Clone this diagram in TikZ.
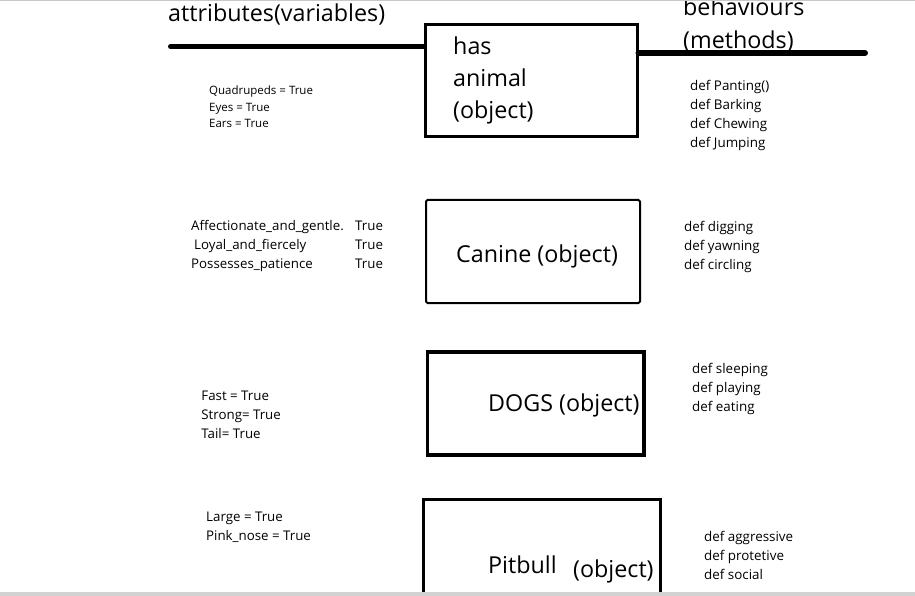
\documentclass[tikz,border=0pt]{standalone}
\usepackage{fontspec}
\setmainfont{Open Sans}
\definecolor{bargray}{HTML}{D2D2D2}
\definecolor{edgegray}{HTML}{C8C8C8}
\tikzset{
  objbox/.style={rectangle, draw, line width=3pt, inner sep=0pt},
  bigtext/.style={inner sep=0pt, font=\fontsize{23.3}{32.4}\selectfont},
  attrlist/.style={inner sep=0pt, anchor=north west, align=left, font=\fontsize{13.3}{19}\selectfont},
  methlist/.style={attrlist, font=\fontsize{13.4}{19}\selectfont},
  heavyline/.style={line width=5pt, line cap=round}
}

\begin{document}
\begin{tikzpicture}[x=1pt, y=-1pt]
    \useasboundingbox (0,0) rectangle (915,596);
    \clip (0,0) rectangle (915,596);
    % object boxes
    \node[objbox, minimum width=212pt, minimum height=112.5pt] (animal) at (531,80.75) {};
    \node[objbox, line width=2pt, rounded corners=1.5pt, minimum width=214pt, minimum height=103pt] (canine) at (533,251.5) {};
    \node[objbox, line width=3.5pt, minimum width=216.5pt, minimum height=103.25pt] (dogs) at (535.75,403.4) {};
    \node[objbox, minimum width=237pt, minimum height=140.5pt] (pitbull) at (542,569.75) {};
    % headings and the two bars
    \node[bigtext, anchor=base west] (attrhead) at (168,22) {attributes(variables)};
    \node[bigtext, anchor=north west, align=left, font=\fontsize{23.3}{33.7}\selectfont] (methhead) at (683,-2.7) {behaviours\\(methods)};
    \coordinate (attrend) at (170.5,46.5);
    \coordinate (methend) at (865,53);
    \draw[heavyline] (attrend) -- (animal.west |- attrend);
    \draw[heavyline, line width=6pt] (animal.east |- methend) -- (methend);
    % animal
    \node[bigtext, anchor=north west, align=left] (animaltxt) at (453,36.2) {has\\animal\\(object)};
    \node[attrlist, font=\fontsize{11.5}{16.7}\selectfont] (animalattr) at (209,85.6) {Quadrupeds = True\\Eyes = True\\Ears = True};
    \node[methlist] (animalmeth) at (690,80.5) {def Panting()\\def Barking\\def Chewing\\def Jumping};
    % canine
    \node[bigtext, anchor=base west] (caninetxt) at (456,262) {Canine (object)};
    \node[attrlist] (canineattr) at (191,220.6) {Affectionate\_and\_gentle.\\\hspace{3pt}Loyal\_and\_fiercely\\Possesses\_patience};
    \node[attrlist] (canineval) at (355,220.6) {True\\True\\True};
    \node[methlist] (caninemeth) at (684,220.6) {def digging\\def yawning\\def circling};
    % dogs
    \node[bigtext, anchor=base west] (dogstxt) at (488,411.7) {DOGS (object)};
    \node[attrlist] (dogsattr) at (201.2,391.2) {Fast = True\\Strong= True\\Tail= True};
    \node[methlist] (dogsmeth) at (692,362.6) {def sleeping\\def playing\\def eating};
    % pitbull
    \node[bigtext, anchor=base west] (pittxt) at (488,573) {Pitbull};
    \node[bigtext, anchor=base west] (pitobj) at (573,577) {(object)};
    \node[attrlist] (pitattr) at (206,512.2) {Large = True\\Pink\_nose = True};
    \node[methlist] (pitmeth) at (704,530.6) {def aggressive\\def protetive\\def social};
    % screen edges
    \fill[edgegray] (0,0) rectangle (915,1.5);
    \fill[bargray] (0,592) rectangle (915,596);
\end{tikzpicture}
\end{document}
